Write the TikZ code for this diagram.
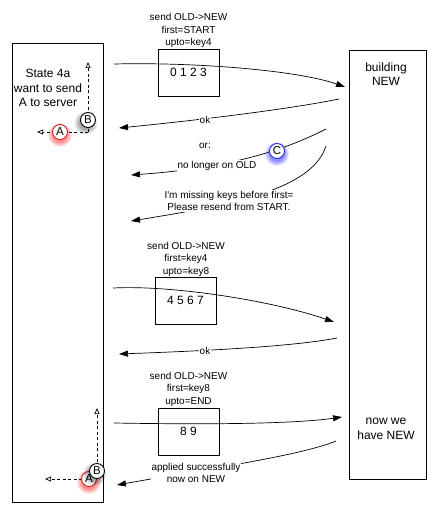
\documentclass[tikz,border=0pt]{standalone}
\usepackage{fontspec}
\setmainfont{Liberation Sans}
\newfontfamily\rawsans{Liberation Sans}[Ligatures=ResetAll]
\usetikzlibrary{arrows.meta}
\definecolor{ringred}{HTML}{D02020}
\definecolor{ringblue}{HTML}{2828D8}
\newcommand\glowat[5]{% color, x, y, radius, opacity
  \foreach \k in {1,...,8}{\fill[#1, opacity=#5] (#2,#3) circle ({#4+\k*0.7});}}
\begin{document}
\begin{tikzpicture}[x=1pt,y=-1pt,
  lane/.style={draw, line width=0.8pt, inner sep=0pt},
  pkt/.style={draw, line width=0.8pt, minimum width=61pt, minimum height=47pt, inner sep=0pt, font=\fontsize{12}{14}\selectfont},
  msg/.style={line width=0.7pt, -{Triangle[length=9pt,width=6pt]}},
  lbl/.style={font=\fontsize{10}{12.5}\selectfont, align=center, inner sep=1pt},
  wlbl/.style={lbl, fill=white},
  big/.style={font=\fontsize{12}{14.5}\selectfont, align=center},
  dsh/.style={line width=0.7pt, dash pattern=on 3pt off 2.5pt, -{Triangle[open,length=6pt,width=5pt]}},
  tok/.style={circle, draw, fill=white, inner sep=0pt, minimum size=15pt, line width=0.9pt, font=\fontsize{11.5}{11.5}\selectfont}
]
\useasboundingbox (0,0) rectangle (436,513);

% lanes
\node[lane, minimum width=91pt, minimum height=459pt] (old) at (57.5,272.5) {};
\node[lane, minimum width=77pt, minimum height=429pt] (new) at (387.5,264.5) {};
\node[big] (st) at (48,88) {State 4a\\want to send\\A to server};
\node[big] (bld) at (386,74) {building\\NEW};
\node[big] (hv) at (386,429) {now we\\have NEW};

% packets
\node[pkt] (p1) at (188.5,72.5) {0 1 2 3};
\node[lbl] (h1) at (188.5,30.5) {send OLD->NEW\\first=START\\upto=key4};
\node[pkt] (p2) at (185.5,300.5) {4 5 6 7};
\node[lbl] (h2) at (186,259) {send OLD->NEW\\first=key4\\upto=key8};
\node[pkt] (p3) at (188.5,431.5) {8 9};
\node[lbl] (h3) at (188.5,389) {send OLD->NEW\\first=key8\\upto=END};

% message 1
\coordinate (m1s) at (114,64); \coordinate (m1e) at (345,87);
\draw[msg] (m1s) .. controls (200,62) and (300,71) .. (m1e);
% ok 1
\coordinate (k1s) at (339,99); \coordinate (k1e) at (119,128);
\draw[msg] (k1s) .. controls (290,109) and (200,120) .. (k1e);
\node[wlbl] (ok1) at (205,120) {ok};
\node[lbl] (or) at (205,146) {or:};
% no longer on OLD
\coordinate (n1s) at (326,129); \coordinate (n1e) at (131,175);
\draw[msg] (n1s) .. controls (285,150) and (230,168) .. (n1e);
\node[wlbl] (nl) at (217,166) {no longer on OLD};
% missing keys
\coordinate (r1s) at (326,146); \coordinate (r1e) at (131,221);
\draw[msg] (r1s) .. controls (312,190) and (230,205) .. (r1e);
\node[wlbl] (ms) at (229,201) {I{\rawsans'}m missing keys before first=\\Please resend from START.};
% message 2
\coordinate (m2s) at (113,288); \coordinate (m2e) at (334,322);
\draw[msg] (m2s) .. controls (170,285) and (270,300) .. (m2e);
% ok 2
\coordinate (k2s) at (337,338); \coordinate (k2e) at (119,354);
\draw[msg] (k2s) .. controls (290,347) and (200,351) .. (k2e);
\node[wlbl] (ok2) at (205,351) {ok};
% message 3
\coordinate (m3s) at (114,423); \coordinate (m3e) at (342,417);
\draw[msg] (m3s) .. controls (230,425) and (300,423) .. (m3e);
% applied
\coordinate (a1s) at (336,441); \coordinate (a1e) at (117,485);
\draw[msg] (a1s) .. controls (300,456) and (200,470) .. (a1e);
\node[wlbl] (ap) at (196,473) {applied successfully\\now on NEW};

% tokens top
\coordinate (tB1) at (88,62); \coordinate (cB1) at (88,132); \coordinate (tA1) at (37,132);
\draw[dsh] (cB1) -- (tB1);
\draw[dsh] (cB1) -- (tA1);
\glowat{red}{60}{135}{6.5}{0.07}
\node[tok, draw=ringred] (A1) at (60,132) {A};
\glowat{black}{86}{123}{6}{0.05}
\node[tok] (B1) at (88,120) {B};

% token C
\glowat{blue}{277}{154}{6.5}{0.07}
\node[tok, draw=ringblue] (C) at (277,151) {C};

% tokens bottom
\coordinate (tB2) at (97,408); \coordinate (tA2) at (45,479);
\draw[dsh] (97,462) -- (tB2);
\draw[dsh] (82,479) -- (tA2);
\glowat{red}{89}{482}{6.5}{0.07}
\node[tok, draw=ringred] (A2) at (89,479) {A};
\glowat{black}{95}{474}{6}{0.05}
\node[tok] (B2) at (97,471) {B};
\end{tikzpicture}
\end{document}
